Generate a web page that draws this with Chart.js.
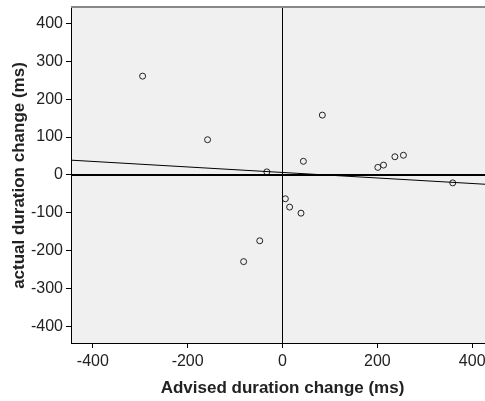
<!DOCTYPE html>
<html>
<head>
<meta charset="utf-8">
<script src="https://cdn.jsdelivr.net/npm/chart.js@4.4.1/dist/chart.umd.min.js"></script>
<style>
    html, body { margin: 0; padding: 0; background: #fff; overflow: hidden; }
    #wrap { width: 485px; height: 401px; overflow: hidden; }
</style>
</head>
<body>
<div id="wrap"><canvas id="chart" width="499" height="401"></canvas></div>
<script>
// scatter values
const advised = [-295, -158, -33, 44, 6, 84, 201, 213, 237, 255, 359, 15, 39, -48, -82];
const actual = [261, 93, 8, 36, -63, 158, 20, 26, 48, 52, -21, -85, -101, -174, -229];

// fitted line end points
const fitX = [-446, 446];
const fitY = [39, -26];

// axis ranges and ticks
const xRange = [-446, 446];
const yRange = [-444, 441];
const xTicks = [-400, -200, 0, 200, 400];
const yTicks = [-400, -300, -200, -100, 0, 100, 200, 300, 400];

const tickFont = { family: "'Liberation Sans', Arial, sans-serif", size: 16 };
const titleFont = { family: "'Liberation Sans', Arial, sans-serif", size: 17, weight: 'bold' };

// grey plot area + grey top edge
const plotBg = {
    id: 'plotBg',
    beforeDraw(chart) {
        const { ctx, chartArea: a } = chart;
        ctx.save();
        ctx.fillStyle = '#f0f0f0';
        ctx.fillRect(a.left, a.top, a.right - a.left, a.bottom - a.top);
        ctx.restore();
    },
    afterDraw(chart) {
        const { ctx, chartArea: a } = chart;
        ctx.save();
        ctx.strokeStyle = '#888';
        ctx.lineWidth = 2;
        ctx.beginPath();
        ctx.moveTo(a.left, a.top - 1);
        ctx.lineTo(a.right, a.top - 1);
        ctx.stroke();
        ctx.restore();
    }
};

const points = advised.map((x, i) => ({ x, y: actual[i] }));
const fitLine = fitX.map((x, i) => ({ x, y: fitY[i] }));

new Chart(document.getElementById('chart'), {
    type: 'scatter',
    data: {
        datasets: [
            {
                data: [{ x: xRange[0], y: 0 }, { x: xRange[1], y: 0 }],
                showLine: true, borderColor: '#000', borderWidth: 2, pointRadius: 0
            },
            {
                data: [{ x: 0, y: yRange[0] }, { x: 0, y: yRange[1] }],
                showLine: true, borderColor: '#000', borderWidth: 1, pointRadius: 0
            },
            {
                data: fitLine,
                showLine: true, borderColor: '#000', borderWidth: 1, pointRadius: 0
            },
            {
                data: points,
                pointRadius: 3, pointBorderWidth: 1,
                pointBorderColor: '#222', pointBackgroundColor: 'rgba(0,0,0,0)'
            }
        ]
    },
    options: {
        responsive: false,
        animation: false,
        layout: { padding: { top: 8, right: 0, left: 0, bottom: 0 } },
        plugins: { legend: { display: false }, tooltip: { enabled: false } },
        scales: {
            x: {
                type: 'linear',
                min: xRange[0], max: xRange[1],
                afterBuildTicks: s => { s.ticks = xTicks.map(v => ({ value: v })); },
                afterFit: s => { s.height = 58; s.paddingLeft = 0; s.paddingRight = 0; },
                ticks: { font: tickFont, color: '#222', padding: 4, maxRotation: 0 },
                grid: { drawOnChartArea: false, tickLength: 5, tickColor: '#000' },
                border: { display: true, color: '#000', width: 1 },
                title: { display: true, text: 'Advised duration change (ms)', font: titleFont, color: '#222', padding: { top: 0, bottom: 2 } }
            },
            y: {
                type: 'linear',
                min: yRange[0], max: yRange[1],
                afterBuildTicks: s => { s.ticks = yTicks.map(v => ({ value: v })); },
                afterFit: s => { s.width = 71; s.paddingTop = 0; s.paddingBottom = 0; },
                ticks: { font: tickFont, color: '#222', padding: 3 },
                grid: { drawOnChartArea: false, tickLength: 5, tickColor: '#000' },
                border: { display: true, color: '#000', width: 1 },
                title: { display: true, text: 'actual duration change (ms)', font: titleFont, color: '#222', padding: { top: 9, bottom: 0 } }
            }
        }
    },
    plugins: [plotBg]
});
</script>
</body>
</html>
